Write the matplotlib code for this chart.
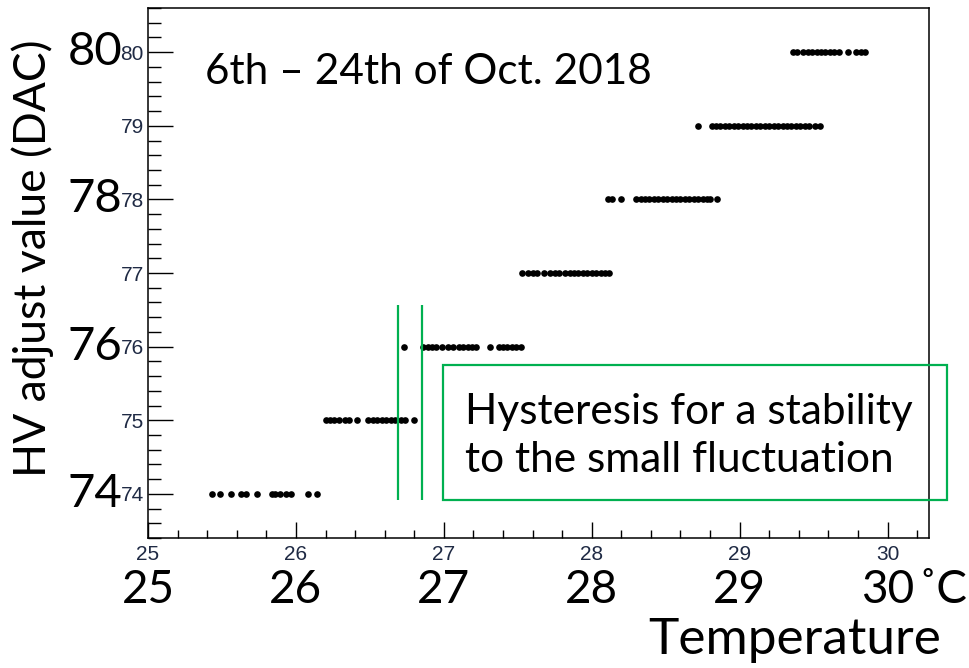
import matplotlib.pyplot as plt
from matplotlib.patches import Rectangle

# temperature readings (deg C) grouped by the HV adjust value (DAC) applied
dac_levels = [74, 75, 76, 77, 78, 79, 80]
temp_74 = [25.43, 25.49, 25.56, 25.63, 25.66, 25.74, 25.84, 25.86, 25.89, 25.93, 25.97, 26.08, 26.14]
temp_75 = [26.20, 26.23, 26.26, 26.29, 26.33, 26.36, 26.41, 26.49, 26.52, 26.55, 26.58, 26.61,
           26.64, 26.67, 26.71, 26.74, 26.80]
temp_76 = [26.73, 26.86, 26.89, 26.92, 26.95, 26.99, 27.03, 27.06, 27.10, 27.13, 27.16, 27.19,
           27.22, 27.31, 27.37, 27.40, 27.43, 27.46, 27.49, 27.52]
temp_77 = [27.53, 27.57, 27.60, 27.63, 27.68, 27.72, 27.75, 27.78, 27.82, 27.85, 27.88, 27.91,
           27.94, 27.97, 28.00, 28.03, 28.06, 28.09, 28.12]
temp_78 = [28.11, 28.14, 28.20, 28.30, 28.33, 28.36, 28.39, 28.42, 28.45, 28.48, 28.51, 28.54,
           28.57, 28.60, 28.63, 28.66, 28.69, 28.72, 28.75, 28.78, 28.80, 28.85]
temp_79 = [28.72, 28.81, 28.84, 28.87, 28.90, 28.93, 28.96, 28.99, 29.02, 29.05, 29.08, 29.11,
           29.14, 29.17, 29.20, 29.23, 29.26, 29.29, 29.32, 29.35, 29.38, 29.41, 29.44, 29.47,
           29.51, 29.54]
temp_80 = [29.36, 29.39, 29.43, 29.46, 29.49, 29.52, 29.55, 29.58, 29.61, 29.64, 29.67, 29.73,
           29.79, 29.82, 29.85]
temps = [temp_74, temp_75, temp_76, temp_77, temp_78, temp_79, temp_80]

# hysteresis thresholds between 75 and 76
hyst_lines = [26.69, 26.85]

big_yticks = [74, 76, 78, 80]
big_xticks = [25, 26, 27, 28, 29, 30]

green = '#00b050'
big_font = 'Lato'

fig = plt.figure(figsize=(9.7, 6.68), dpi=100)
ax = fig.add_axes([0.1526, 0.1946, 0.8051, 0.7934])

for dac, t in zip(dac_levels, temps):
    ax.plot(t, [dac] * len(t), 'o', color='black', ms=4.8, mew=0)

ax.set_xlim(25, 30.28)
ax.set_ylim(73.4, 80.6)

ax.set_xticks([25, 26, 27, 28, 29, 30])
ax.set_xticks([25 + 0.2 * i for i in range(27)], minor=True)
ax.set_yticks([74, 75, 76, 77, 78, 79, 80])
ax.set_yticks([73.4 + 0.2 * i for i in range(37)], minor=True)

ax.tick_params(axis='both', which='both', direction='in', width=1,
               top=False, right=False, colors='black', labelcolor='#1f2a44',
               labelsize=15)
ax.tick_params(axis='y', which='major', length=18, pad=3)
ax.tick_params(axis='y', which='minor', length=9)
ax.tick_params(axis='x', which='major', length=11.5, pad=5)
ax.tick_params(axis='x', which='minor', length=6)
for lab in ax.get_xticklabels() + ax.get_yticklabels():
    lab.set_family('Liberation Sans')
for s in ax.spines.values():
    s.set_linewidth(1.1)

# large overlaid axis numbers
for v in big_yticks:
    ax.text(-0.033, v, str(v), transform=ax.get_yaxis_transform(), ha='right',
            va='center', fontsize=34, family=big_font)
for v in big_xticks:
    ax.text(v, -0.098, str(v), transform=ax.get_xaxis_transform(), ha='center',
            va='center', fontsize=33, family=big_font)
fig.text(918 / 970, 1 - 590 / 668, '˚C', ha='left', va='center', fontsize=33,
         family=big_font)

fig.text(795 / 970, 1 - 640 / 668, 'Temperature', ha='center', va='center',
         fontsize=37, family=big_font)
fig.text(33 / 970, 1 - 258 / 668, 'HV adjust value (DAC)', ha='center',
         va='center', rotation=90, fontsize=32, family=big_font)

fig.text(205 / 970, 1 - 72 / 668, '6th – 24th of Oct. 2018', ha='left',
         va='center', fontsize=30.5, family=big_font)

# hysteresis markers
ax.vlines(hyst_lines, 73.92, 76.57, color=green, lw=1.6, clip_on=False)

box = Rectangle((443 / 970, 1 - 500 / 668), 504 / 970, 135 / 668,
                transform=fig.transFigure, fill=False, edgecolor=green, lw=1.6)
fig.patches.append(box)
fig.text(465 / 970, 1 - 436 / 668, 'Hysteresis for a stability\nto the small fluctuation',
         ha='left', va='center', fontsize=30.5, family=big_font, linespacing=1.35)

fig.savefig('out.png', dpi=100)
